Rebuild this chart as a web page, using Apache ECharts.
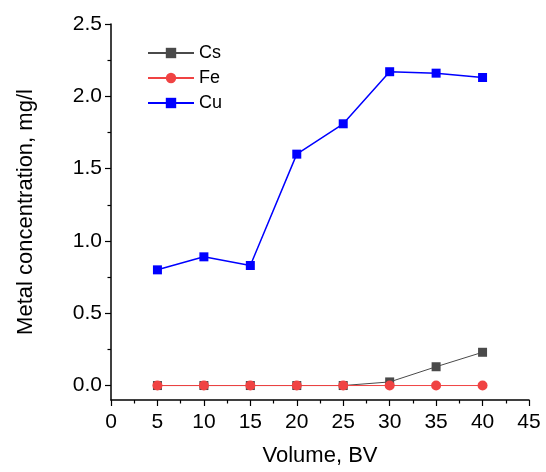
<!DOCTYPE html>
<html>
<head>
<meta charset="utf-8">
<script src="https://cdn.jsdelivr.net/npm/echarts@6/dist/echarts.min.js"></script>
<style>
  html, body { margin: 0; padding: 0; background: #fff; }
  #chart { width: 546px; height: 472px; }
</style>
</head>
<body>
<div id="chart"></div>
<script>
const volumes = [5, 10, 15, 20, 25, 30, 35, 40];
const csValues = [0, 0, 0, 0, 0, 0.025, 0.13, 0.23];
const feValues = [0, 0, 0, 0, 0, 0, 0, 0];
const cuValues = [0.80, 0.89, 0.83, 1.60, 1.81, 2.17, 2.16, 2.13];
const yMajorTicks = [0, 0.5, 1.0, 1.5, 2.0, 2.5];
const yMinorTicks = [0.25, 0.75, 1.25, 1.75, 2.25];

const font = 'Liberation Sans, Arial, sans-serif';
const pair = vals => volumes.map((v, i) => [v, vals[i]]);

const chartInstance = echarts.init(document.getElementById('chart'));

const option = {
    animation: false,
    textStyle: { fontFamily: font },
    grid: { left: 111, right: 17, top: 24, bottom: 72 },
    legend: {
        orient: 'vertical',
        left: 142,
        top: 39,
        itemWidth: 46,
        itemHeight: 13,
        itemGap: 7,
        textStyle: { fontFamily: font, fontSize: 18, color: '#000' },
        data: ['Cs', 'Fe', 'Cu']
    },
    xAxis: {
        type: 'value',
        min: 0,
        max: 45,
        interval: 5,
        name: 'Volume, BV',
        nameLocation: 'middle',
        nameGap: 45,
        nameTextStyle: { fontFamily: font, fontSize: 22, color: '#000' },
        axisLine: { onZero: false, lineStyle: { color: '#000', width: 1.5 } },
        axisTick: { inside: false, length: 6, lineStyle: { color: '#000', width: 1.2 } },
        minorTick: { show: true, splitNumber: 2, length: 3.5, lineStyle: { color: '#000', width: 1.2 } },
        axisLabel: { margin: 12, fontFamily: font, fontSize: 21, color: '#000' },
        splitLine: { show: false }
    },
    yAxis: [
        {
            type: 'value',
            min: -0.1,
            max: 2.5,
            name: 'Metal concentration, mg/l',
            nameLocation: 'middle',
            nameGap: 74,
            nameTextStyle: { fontFamily: font, fontSize: 22, color: '#000' },
            axisLine: { show: true, onZero: false, lineStyle: { color: '#000', width: 1.5 } },
            axisTick: { show: true, inside: false, length: 6, customValues: yMajorTicks, lineStyle: { color: '#000', width: 1.2 } },
            axisLabel: {
                margin: 9, fontFamily: font, fontSize: 21, color: '#000',
                customValues: yMajorTicks,
                formatter: v => v.toFixed(1)
            },
            splitLine: { show: false }
        },
        {
            type: 'value',
            min: -0.1,
            max: 2.5,
            position: 'left',
            axisLine: { show: false, onZero: false },
            axisTick: { show: true, inside: false, length: 3.5, customValues: yMinorTicks, lineStyle: { color: '#000', width: 1.2 } },
            axisLabel: { show: false },
            splitLine: { show: false }
        }
    ],
    series: [
        {
            name: 'Cs',
            type: 'line',
            data: pair(csValues),
            symbol: 'rect',
            symbolSize: 9,
            itemStyle: { color: '#4a4a4a' },
            lineStyle: { color: '#4a4a4a', width: 1 }
        },
        {
            name: 'Fe',
            type: 'line',
            data: pair(feValues),
            symbol: 'circle',
            symbolSize: 10,
            itemStyle: { color: '#f04343' },
            lineStyle: { color: '#f04343', width: 1 }
        },
        {
            name: 'Cu',
            type: 'line',
            data: pair(cuValues),
            symbol: 'rect',
            symbolSize: 9,
            itemStyle: { color: '#0000ff' },
            lineStyle: { color: '#0000ff', width: 1.5 }
        }
    ]
};

chartInstance.setOption(option);
</script>
</body>
</html>
